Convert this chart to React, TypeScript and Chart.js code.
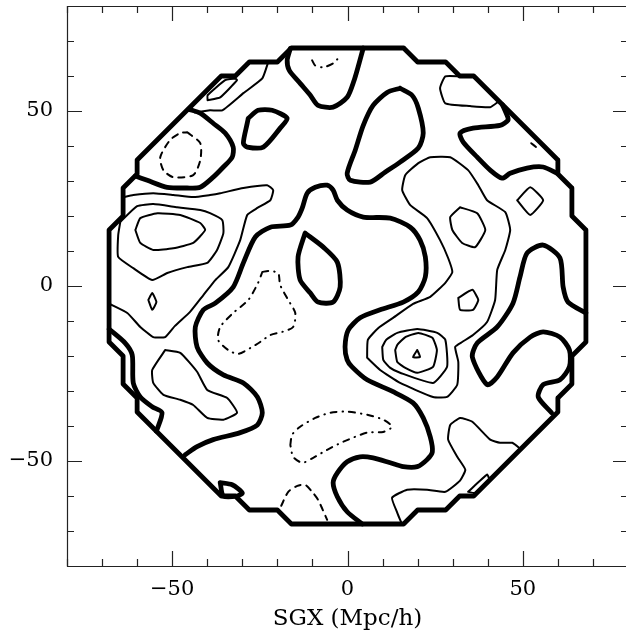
import { useEffect, useRef } from 'react';
import { Chart, registerables } from 'chart.js';

Chart.register(...registerables);

type P = [number, number];

const X_MIN = -80;
const X_MAX = 80;
const Y_MIN = -80;
const Y_MAX = 80;
const MAJOR_TICKS = [-50, 0, 50];
const MINOR_STEP = 10;
const X_TITLE = 'SGX (Mpc/h)';

// survey boundary
const BOUNDARY: P[] = [
  [16, 68], [20, 64], [28, 64], [32, 60], [36, 60], [60, 36], [60, 32], [64, 28], [64, 20], [68, 16],
  [68, -16], [64, -20], [64, -28], [60, -32], [60, -36], [36, -60], [32, -60], [28, -64], [20, -64], [16, -68],
  [-16, -68], [-20, -64], [-28, -64], [-32, -60], [-36, -60], [-60, -36], [-60, -32], [-64, -28], [-64, -20], [-68, -16],
  [-68, 16], [-64, 20], [-64, 28], [-60, 32], [-60, 36], [-36, 60], [-32, 60], [-28, 64], [-20, 64], [-16, 68], [16, 68],
];

// zero-level contours (thick)
const ZERO_TOP_U: P[] = [[-16.3, 67.9], [-17.2, 64.5], [-16.6, 61.6], [-13.5, 57.9], [-10.6, 54.5], [-8.4, 51.6], [-4.1, 51.1], [-0.1, 53.9], [1.9, 58.8], [3.3, 63.6], [4.5, 68]];
const ZERO_SMALL_TL: P[] = [[-28.3, 47.9], [-25.5, 50.2], [-21.5, 50.2], [-17.2, 47.9], [-19.2, 45.1], [-24, 39.7], [-28.6, 39.7], [-29.7, 40.8], [-28.6, 46.5], [-28.3, 47.9]];
const ZERO_OVAL: P[] = [[15, 56.5], [18.4, 54.5], [20.2, 50.8], [21.6, 43.7], [20.2, 39.4], [15, 35.4], [10.7, 32.5], [6.5, 29.7], [0.8, 30.2], [-0.1, 32.2], [2.2, 38.8], [4.5, 45.9], [7.3, 51.6], [11.3, 55.3], [15, 56.5]];
const ZERO_TR: P[] = [[44.2, 51.8], [45.5, 48.8], [45.8, 47.4], [43.5, 45.9], [35.8, 45.1], [32.1, 43.7], [33, 41.1], [37, 36.8], [40.7, 33.1], [44.1, 30.8], [46.4, 32.2], [51.2, 33.7], [55.8, 34], [59.8, 32.2]];
const ZERO_TL: P[] = [[-45.3, 50.5], [-42, 49.4], [-38.3, 46.5], [-34.9, 43.7], [-32.6, 39.7], [-32.9, 36.8], [-35.4, 34], [-38.3, 31.1], [-42, 28.2], [-45.7, 28], [-51.4, 28.2], [-57.1, 30.2], [-60.5, 31.4]];
const ZERO_TEAR: P[] = [[-12.1, 15.1], [-14.1, 8.3], [-13.5, 1.7], [-10.6, -2], [-8.4, -4.6], [-4.1, -4.6], [-2.1, -0.3], [-2.9, 6.8], [-6.9, 11.1], [-12.1, 15.1]];
const ZERO_MAIN: P[] = [
  [-46.3, -48.2], [-42.9, -45.9], [-38.3, -43.9], [-30.6, -41.9], [-25.7, -39.7], [-24.3, -36.2], [-25.7, -31.7],
  [-29.7, -27.7], [-35.4, -25.4], [-40, -22], [-42.9, -17.4], [-43.4, -11.7], [-41.1, -6.8], [-37.7, -4.9],
  [-32.6, -0.3], [-29.7, 6.6], [-26.3, 14], [-22, 16.8], [-16.3, 17.4], [-14.1, 19.7], [-12.9, 22.3], [-11.5, 26.5],
  [-9.2, 28.2], [-5.8, 28.8], [-4.1, 27.4], [-2.9, 24.5], [-0.1, 21.7], [4.5, 19.7], [12.2, 19.4], [17.9, 16.8],
  [20.7, 13.1], [22.2, 8.3], [22.2, 2.6], [20.2, -1.7], [15.9, -4.6], [9.3, -6.8], [3.6, -9.1], [0.2, -12.6],
  [-0.7, -17.4], [-0.1, -21.1], [1.3, -23.1], [5.6, -26.8], [13, -30.2], [18.7, -33.4], [21.6, -37.7], [23.6, -43.1],
  [24.2, -47.4], [22.7, -49.6], [19.9, -51.6], [15.9, -51.6], [12.2, -50.5], [7.3, -49.1], [3.6, -48.8], [-0.1, -50.2],
  [-2.9, -53.4], [-4.1, -56.2], [-2.9, -60.2], [-0.1, -64.5], [4.2, -68],
];
const ZERO_RIGHT: P[] = [
  [68, -7.7], [62.9, -4.6], [61.5, -0.3], [60.6, 8], [55.8, 11.7], [51.2, 9.4], [49.2, 2.6], [47.2, -4.9],
  [42.7, -11.7], [37, -16.3], [35.6, -20.3], [39.8, -28.2], [42.7, -26], [47.2, -19.1], [52.1, -14.6], [55.8, -13.1],
  [60.6, -14.6], [63.3, -18.3], [63.3, -23.1], [60.6, -26.8], [55.8, -28.2], [54.4, -31.7], [58.2, -36.2],
];
const ZERO_LEFT_EDGE: P[] = [[-68, -12.3], [-63.4, -16.3], [-61.4, -19.7], [-61.1, -27.7], [-59.1, -31.7], [-55.7, -34.5], [-52.9, -36.2], [-54.5, -41.5]];
const ZERO_SMALL_BL: P[] = [[-36.3, -56.2], [-32.9, -56.8], [-30, -59.1], [-31.5, -60], [-35.4, -60], [-36.3, -56.2]];

// positive contours (thin)
const POS_TL_OUTER: P[] = [[-44.6, 51.5], [-43.7, 49.6], [-39.2, 50.2], [-35.7, 50.2], [-29.7, 55.1], [-24.3, 59.3], [-22.6, 64]];
const POS_TL_INNER: P[] = [[-39.9, 53.1], [-39.9, 54.5], [-34.9, 58.8], [-32, 59.3], [-31.5, 58.8], [-36.3, 53.9], [-39.9, 53.1]];
const POS_LEFT_CORE: P[] = [[-60.5, 16], [-59.1, 19.4], [-54.2, 20.8], [-47.7, 20.3], [-42, 18], [-40.6, 16], [-44, 12.3], [-49.7, 10.8], [-55.4, 10.3], [-59.1, 12.3], [-60.5, 16]];
const POS_LEFT_RING: P[] = [[-64.8, 18.3], [-60, 22.8], [-55.4, 23.4], [-48.6, 22.5], [-42, 21.7], [-39.2, 20.8], [-35.7, 18.8], [-35.4, 15.1], [-37.2, 10.3], [-40, 6.6], [-45.7, 5.4], [-51.4, 3.7], [-55.7, 1.7], [-61.1, 5.1], [-65.4, 8.3], [-65.4, 14.5], [-64.8, 18.3]];
const POS_LEFT_OUTER: P[] = [
  [-63.9, 25.4], [-61.1, 26], [-55.4, 26.5], [-49.7, 26], [-44, 25.4], [-39.2, 26], [-36.3, 26.5], [-29.7, 28],
  [-22.9, 28.8], [-21.2, 27.4], [-22, 24.5], [-25.7, 22.3], [-28.6, 20.3], [-30.6, 13.1], [-34, 5.4], [-37.7, 1.7],
  [-41.1, -2.6], [-44.9, -7.4], [-49.2, -11.4], [-52, -14.6], [-55.4, -14.6], [-59.1, -11.7], [-62.8, -7.7], [-67.9, -5.1],
];
const POS_LEFT_DIAMOND: P[] = [[-56.8, -4], [-55.7, -2], [-54.5, -4.6], [-55.7, -6.8], [-56.8, -4]];
const POS_LOWER_LEFT: P[] = [[-52, -18.3], [-47.7, -19.1], [-42.9, -24.5], [-40, -29.7], [-34.3, -32], [-31.5, -36.2], [-35.4, -38.2], [-40, -37.7], [-44, -34], [-47.7, -32.5], [-52.5, -31.1], [-55.4, -27.7], [-55.7, -24], [-52, -18.3]];
const POS_TOP_RIGHT: P[] = [[32.1, 59.9], [27.9, 59.9], [26.4, 56.5], [27.9, 52.2], [35, 51.4], [40.7, 51.1], [43.2, 52.8]];
const POS_RIDGE: P[] = [
  [5.6, -20.5], [5.8, -15.4], [8.8, -12], [13, -9.1], [18.7, -5.1], [23.6, -3.1], [27.9, 0.9], [29.9, 4], [28.7, 8],
  [26.4, 13.1], [22.7, 19.4], [17.9, 23.1], [15.6, 27.4], [16.5, 31.7], [20.2, 35.1], [23.6, 36.8], [29.3, 36.8],
  [34.4, 33.1], [37.3, 28.8], [39.8, 24.5], [45, 21.1], [46.4, 16], [45, 10.3], [42.7, 4.6], [42.1, -4], [39.8, -10.3],
  [35.8, -14], [32.7, -16], [30.7, -17.4], [31.6, -21.7], [31.3, -28.2], [28.4, -31.7], [24.4, -31.7], [15, -27.7],
  [9.3, -24], [5.6, -20.5],
];
const POS_PEAK_2: P[] = [[9.9, -17.4], [10.2, -21.1], [12.2, -23.4], [15, -24.8], [24.4, -27.7], [28.4, -23.1], [27.9, -15.4], [25.6, -13.4], [19.9, -12.3], [14.2, -13.4], [11, -15.4], [9.9, -17.4]];
const POS_PEAK_3: P[] = [[13.6, -18.3], [14.2, -21.7], [16.5, -23.4], [19.9, -24.8], [24.4, -23.1], [25.5, -18.3], [24.2, -14.8], [20.2, -13.4], [16.5, -14.6], [14.2, -16.8], [13.6, -18.3]];
const POS_PEAK_4: P[] = [[19.9, -18.3], [20.7, -20.3], [18.7, -20.3], [19.9, -18.3]];
const POS_RIGHT_OVAL: P[] = [[32.1, 22.5], [37, 20.8], [39.3, 16], [36.4, 11.1], [32.7, 12.3], [29.9, 16], [29.3, 19.7], [32.1, 22.5]];
const POS_RIGHT_PENT: P[] = [[31.6, -3.4], [35.6, -1.1], [37.3, -4], [35.8, -6.8], [32.1, -6.8], [31.6, -3.4]];
const POS_RIGHT_DIAMOND: P[] = [[48.4, 24.5], [52.1, 28.2], [55.8, 24.5], [52.1, 20.3], [48.4, 24.5]];
const POS_BOTTOM_RIGHT: P[] = [
  [15.5, -68], [14.2, -64.8], [12.7, -60.5], [17, -58.2], [22.7, -58.2], [27.9, -58.8], [32.1, -55.6], [33.6, -52.5],
  [31.3, -48.8], [28.7, -43.9], [29.3, -39.7], [32.1, -37.7], [35.6, -38.8], [40.7, -43.9], [43.5, -44.8], [47, -44.8], [49.4, -46.6],
];
const POS_BR_SMALL: P[] = [[34.4, -58.8], [39.8, -53.9], [40.4, -55.3], [36.4, -59.1], [34.4, -58.8]];

// negative contours (dashed)
const NEG_TL_OVAL: P[] = [[-45.7, 43.9], [-42, 40.8], [-42, 35.9], [-44, 31.7], [-49.7, 31.1], [-52.5, 33.1], [-53.4, 36.8], [-50.6, 41.7], [-47.7, 43.7], [-45.7, 43.9]];
const NEG_BOTTOM_ARC: P[] = [[-18.9, -62.8], [-16.9, -58.8], [-14.3, -57.1], [-12.1, -56.8], [-10.1, -58.8], [-8.4, -61.1], [-5.8, -66.8]];
const NEG_RIGHT_BIT: P[] = [[52.4, 40.8], [53.8, 39.7]];

// negative contours (dash-dot)
const NEG2_TOP_ARC: P[] = [[-10.1, 64.5], [-9.2, 63], [-6.9, 62.5], [-4.1, 63.6], [-2.9, 64.8]];
const NEG2_CENTER: P[] = [
  [-24.3, 4], [-22.6, 4.3], [-19.8, 3.7], [-19.2, 0.3], [-16.9, -4], [-14.9, -7.7], [-15.5, -11.7], [-18.6, -13.1],
  [-22, -14], [-24.9, -16], [-27.7, -17.7], [-31.2, -19.4], [-34, -18.3], [-36.9, -15.4], [-36.3, -11.7], [-32.6, -7.7],
  [-28.3, -4], [-25.5, 0.9], [-24.3, 4],
];
const NEG2_BOTTOM: P[] = [
  [-16.3, -45.4], [-15.8, -42.5], [-13.5, -40.2], [-9.2, -37.7], [-4.9, -36.2], [-0.1, -35.9], [5.6, -36.8], [10.2, -38.2],
  [12.7, -40.2], [10.2, -41.7], [5.6, -41.9], [-1.2, -44.5], [-5.8, -46.8], [-9.8, -49.1], [-12.9, -50.5], [-15.5, -48.8], [-16.3, -45.4],
];

const ZERO_SET = [ZERO_TOP_U, ZERO_SMALL_TL, ZERO_OVAL, ZERO_TR, ZERO_TL, ZERO_TEAR, ZERO_MAIN, ZERO_RIGHT, ZERO_LEFT_EDGE, ZERO_SMALL_BL];
const POS_SET = [POS_TL_OUTER, POS_TL_INNER, POS_LEFT_CORE, POS_LEFT_RING, POS_LEFT_OUTER, POS_LEFT_DIAMOND, POS_LOWER_LEFT, POS_TOP_RIGHT, POS_RIDGE, POS_PEAK_2, POS_PEAK_3, POS_PEAK_4, POS_RIGHT_OVAL, POS_RIGHT_PENT, POS_RIGHT_DIAMOND, POS_BOTTOM_RIGHT, POS_BR_SMALL];
const NEG_SET = [NEG_TL_OVAL, NEG_BOTTOM_ARC, NEG_RIGHT_BIT];
const NEG2_SET = [NEG2_TOP_ARC, NEG2_CENTER, NEG2_BOTTOM];

const FONT = 'DejaVu Serif';

function fmt(v: number): string {
  return v < 0 ? '\u2212' + Math.abs(v) : String(v);
}

function line(pts: P[], width: number, dash: number[], tension: number) {
  return {
    data: pts.map(([x, y]) => ({ x, y })),
    showLine: true,
    borderColor: '#000',
    backgroundColor: '#000',
    borderWidth: width,
    borderDash: dash,
    borderJoinStyle: 'round',
    borderCapStyle: 'round',
    pointRadius: 0,
    pointHoverRadius: 0,
    fill: false,
    tension,
  };
}

const framePlugin = {
  id: 'frameTicks',
  afterDraw(chart: any) {
    const { ctx, chartArea: a, scales } = chart;
    const xs = scales.x;
    const ys = scales.y;
    ctx.save();
    ctx.strokeStyle = '#222';
    ctx.lineWidth = 1.2;
    ctx.beginPath();
    ctx.rect(Math.round(a.left) + 0.5, Math.round(a.top) + 0.5, Math.round(a.right - a.left), Math.round(a.bottom - a.top));
    ctx.stroke();
    ctx.beginPath();
    for (let v = X_MIN; v <= X_MAX; v += MINOR_STEP) {
      const len = MAJOR_TICKS.includes(v) ? 15 : 7;
      const px = Math.round(xs.getPixelForValue(v)) + 0.5;
      ctx.moveTo(px, a.bottom); ctx.lineTo(px, a.bottom - len);
      ctx.moveTo(px, a.top); ctx.lineTo(px, a.top + len);
    }
    for (let v = Y_MIN; v <= Y_MAX; v += MINOR_STEP) {
      const len = MAJOR_TICKS.includes(v) ? 15 : 7;
      const py = Math.round(ys.getPixelForValue(v)) + 0.5;
      ctx.moveTo(a.left, py); ctx.lineTo(a.left + len, py);
      ctx.moveTo(a.right, py); ctx.lineTo(a.right - len, py);
    }
    ctx.stroke();
    ctx.restore();
  },
};

export default function App() {
  const ref = useRef<HTMLCanvasElement | null>(null);
  useEffect(() => {
    if (!ref.current) return;
    const datasets: any[] = [];
    datasets.push(line(BOUNDARY, 4.8, [], 0));
    ZERO_SET.forEach((c) => datasets.push(line(c, 4.8, [], 0.25)));
    POS_SET.forEach((c) => datasets.push(line(c, 2, [], 0.15)));
    NEG_SET.forEach((c) => datasets.push(line(c, 2, [6, 6], 0.25)));
    NEG2_SET.forEach((c) => datasets.push(line(c, 2, [6, 6, 0.5, 6], 0.25)));
    const chart = new Chart(ref.current, {
      type: 'scatter',
      data: { datasets },
      options: {
        animation: false,
        responsive: false,
        devicePixelRatio: 1,
        layout: { padding: { top: 6, right: 12, left: 0, bottom: 0 } },
        plugins: { legend: { display: false }, tooltip: { enabled: false } },
        events: [],
        scales: {
          x: {
            type: 'linear',
            min: X_MIN,
            max: X_MAX,
            position: 'bottom',
            grid: { display: false, drawTicks: false },
            border: { display: false },
            ticks: {
              stepSize: MINOR_STEP,
              autoSkip: false,
              maxRotation: 0,
              padding: 11,
              color: '#000',
              font: { family: FONT, size: 21 },
              callback: (v: any) => (MAJOR_TICKS.includes(Number(v)) ? fmt(Number(v)) : ''),
            },
            title: {
              display: true,
              text: X_TITLE,
              color: '#000',
              font: { family: FONT, size: 23 },
              padding: { top: 0, bottom: 6 },
            },
            afterFit: (s: any) => { s.height = 73; s.paddingLeft = 0; s.paddingRight = 0; },
          },
          y: {
            type: 'linear',
            min: Y_MIN,
            max: Y_MAX,
            position: 'left',
            grid: { display: false, drawTicks: false },
            border: { display: false },
            ticks: {
              stepSize: MINOR_STEP,
              autoSkip: false,
              padding: 14,
              color: '#000',
              font: { family: FONT, size: 21 },
              callback: (v: any) => (MAJOR_TICKS.includes(Number(v)) ? fmt(Number(v)) : ''),
            },
            afterFit: (s: any) => { s.width = 67; s.paddingTop = 0; s.paddingBottom = 0; },
          },
        },
      } as any,
      plugins: [framePlugin],
    });
    return () => chart.destroy();
  }, []);
  return (
    <div style={{ position: 'fixed', left: 0, top: 0, width: 626, height: 639, overflow: 'hidden', background: '#fff' }}>
      <canvas ref={ref} width={640} height={639} style={{ width: 640, height: 639, display: 'block' }} />
    </div>
  );
}
